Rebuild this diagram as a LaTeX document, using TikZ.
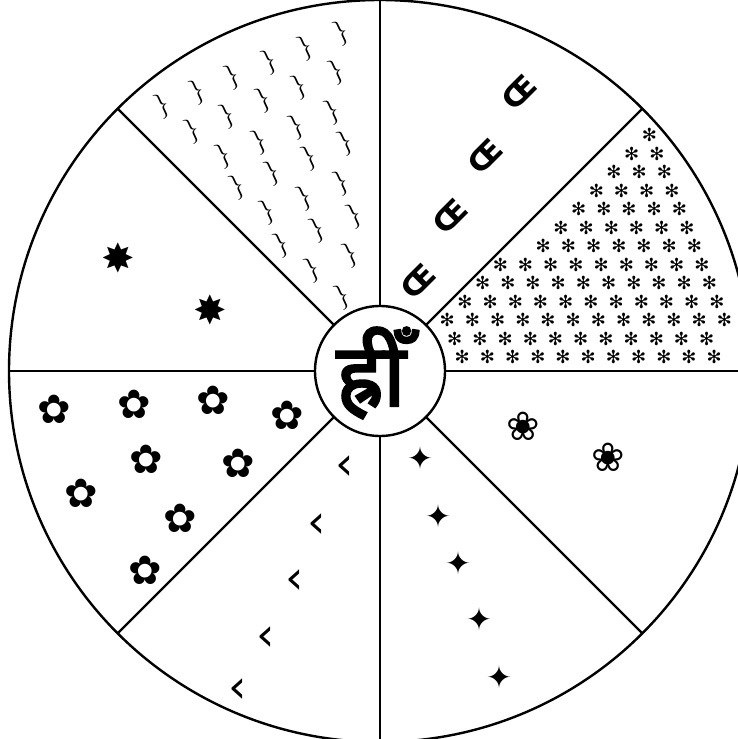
\documentclass[tikz,border=0pt]{standalone}
\usepackage{fontspec}
\newfontfamily\symfont{DejaVu Sans}
\newfontfamily\devfont[Script=Devanagari,FakeBold=2.5]{Noto Sans}
\usetikzlibrary{calc}
\definecolor{Ink}{HTML}{000000}

\begin{document}
\begin{tikzpicture}[x=1pt,y=-1pt, every node/.style={inner sep=0pt,text=Ink},
    divline/.style={draw=Ink,line width=2.4pt},
    bracemk/.style={rotate=25,font=\fontsize{26}{26}\selectfont},
    oemk/.style={rotate=45,font=\symfont\bfseries\fontsize{30}{30}\selectfont},
    astmk/.style={font=\symfont\bfseries\fontsize{18}{18}\selectfont},
    blackfl/.style={font=\symfont\fontsize{40}{40}\selectfont},
    whitefl/.style={font=\symfont\fontsize{40}{40}\selectfont},
    fourstar/.style={font=\symfont\fontsize{31}{31}\selectfont},
    eightstar/.style={font=\symfont\fontsize{40}{40}\selectfont},
    anglemk/.style={font=\symfont\fontsize{46}{46}\selectfont}]
  \useasboundingbox (0,0) rectangle (738,739);
  \coordinate (c) at (380,371);
  \draw[divline] (c) circle[radius=371pt];
  \foreach \a in {0,45,...,315}
    \draw[divline] (c) -- ([shift={(\a:371pt)}]c);
  \node[draw=Ink,line width=2.4pt,fill=white,circle,minimum size=130pt] (core) at (c) {};
  \node[font=\devfont\fontsize{88}{88}\selectfont] (hrim) at ([xshift=-9pt,yshift=-2pt]c) {ह्रीँ};
  % upper sectors
  \foreach \p [count=\i] in {(342,33),(306,48),(270,62),(233,77),(198,92),(163,106),
      (337,72),(300,87),(264,100),(228,116),(193,131),(333,112),(297,127),(260,142),
      (224,156),(346,143),(310,158),(273,173),(238,187),(342,183),(305,198),(268,212),
      (355,216),(318,230),(282,245),(351,255),(313,270),(343,297)}
    \node[bracemk] (br\i) at \p {\}};
  \foreach \p [count=\i] in {(519,92),(485,156),(450,216),(418,281)}
    \node[oemk] (oe\i) at \p {Œ};
  \foreach \j in {0,...,14}
    \foreach \i in {-10,...,9}{
      \pgfmathsetmacro\px{563-7.5*\j+25.2*\i}
      \pgfmathsetmacro\py{357-18.5*\j}
      \pgfmathsetmacro\dx{\px-380}
      \pgfmathsetmacro\dy{371-\py}
      \pgfmathsetmacro\rr{veclen(\dx,\dy)}
      \pgfmathtruncatemacro\ok{(\dy>9)&&(\dx-\dy>13)&&(\rr<360)&&(\rr>78)&&(\px<729)}
      \pgfmathtruncatemacro\k{\i+10}
      \ifnum\ok=1 \node[astmk] (ast\j-\k) at (\px,\py) {✻};\fi
    }
  \foreach \p [count=\i] in {(118,258),(210,310)}
    \node[eightstar] (es\i) at \p {✸};
  % lower sectors
  \foreach \p [count=\i] in {(54,409),(134,404),(213,400),(287,415),(146,459),
      (238,463),(81,493),(180,518),(145,570)}
    \node[blackfl] (bf\i) at \p {✿};
  \foreach \p [count=\i] in {(523,426),(608,457)}
    \node[whitefl] (wf\i) at \p {❀};
  \foreach \p [count=\i] in {(420,458),(438,516),(458,563),(479,619),(499,677)}
    \node[fourstar] (fs\i) at \p {✦};
  \foreach \p [count=\i] in {(345,468),(317,526),(295,582),(266,639),(238,691)}
    \node[anglemk] (lt\i) at \p {‹};
\end{tikzpicture}
\end{document}
